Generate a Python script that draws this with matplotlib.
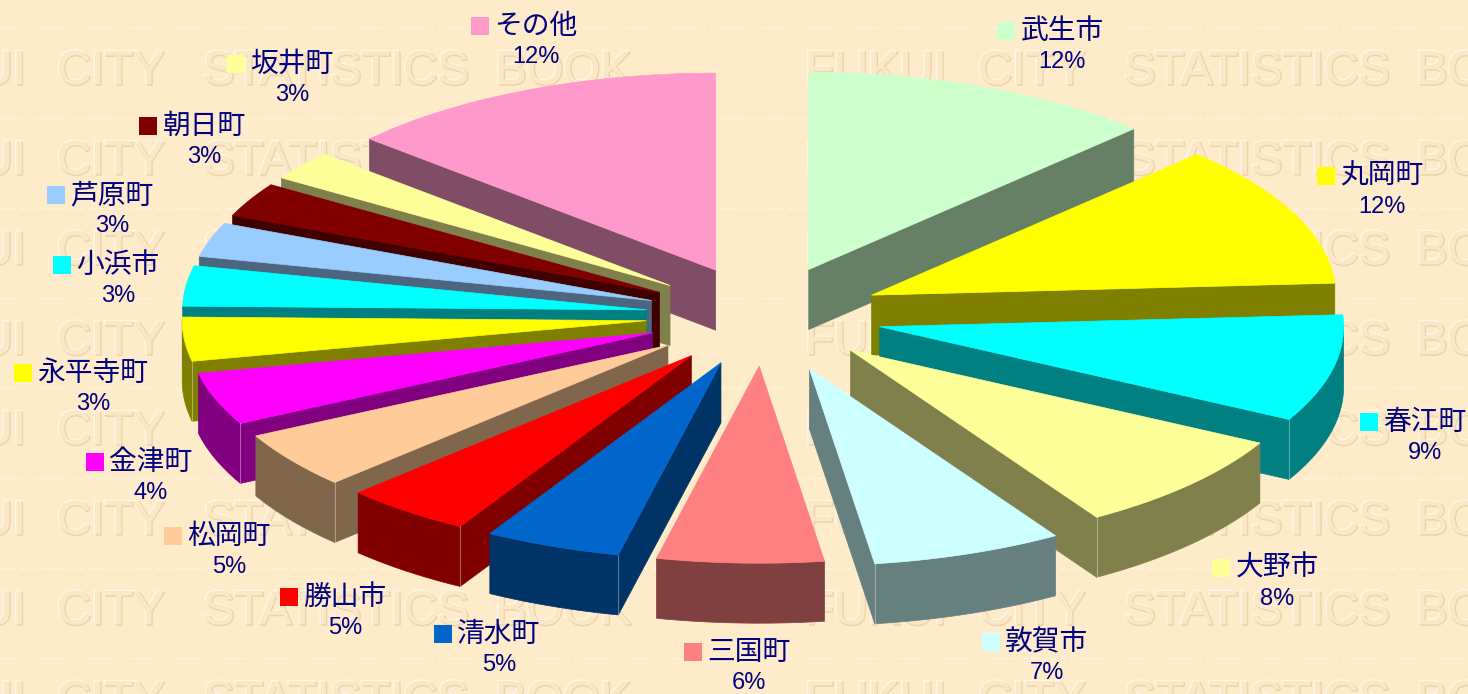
import numpy as np
import matplotlib
matplotlib.use('Agg')
import matplotlib.pyplot as plt
import matplotlib.patheffects as pe
from matplotlib.patches import Polygon, Rectangle

# shares, percent labels as printed on the chart
names = ['武生市', '丸岡町', '春江町', '大野市', '敦賀市', '三国町', '清水町', '勝山市',
         '松岡町', '金津町', '永平寺町', '小浜市', '芦原町', '朝日町', '坂井町', 'その他']
shares = [12.35, 11.68, 8.77, 8.3, 6.65, 5.8, 4.75, 4.45, 4.65, 4.3, 3.6, 3.3, 2.8, 2.8, 2.4, 13.4]
percent_labels = ['12%', '12%', '9%', '8%', '7%', '6%', '5%', '5%',
                  '5%', '4%', '3%', '3%', '3%', '3%', '3%', '12%']
colors = ['#CCFFCC', '#FFFF00', '#00FFFF', '#FFFF99', '#CCFFFF', '#FF8080', '#0066CC', '#FF0000',
          '#FFCC99', '#FF00FF', '#FFFF00', '#00FFFF', '#99CCFF', '#800000', '#FFFF99', '#FF99CC']
explode = [0.255, 0.255, 0.255, 0.255, 0.285, 0.255, 0.255, 0.255,
           0.255, 0.255, 0.255, 0.255, 0.255, 0.255, 0.255, 0.255]

# label layout, pixels
label_x = [1062, 1382, 1425, 1277, 1047, 749, 499, 345, 229, 151, 93, 118, 112, 204, 292, 536]
label_y = [31, 176, 422, 568, 642, 652, 634, 597, 536, 462, 373, 265, 195, 126, 64, 26]

# pie geometry, pixels
cx, cy = 764, 316
rx, ry = 464, 197
depth = 60

bg_color = '#FEEBC9'
text_color = '#000080'
wm_words = ['FUKUI', 'CITY', 'STATISTICS', 'BOOK']
wm_x = [-116, 57, 203, 495]
wm_period = 921
wm_rows = [-18, 72, 162, 252, 342, 432, 522, 612, 702]
dash_rows = [28, 118, 208, 298, 388, 478, 568, 658]

latin = ['Liberation Sans', 'DejaVu Sans']
cjk = ['Noto Sans CJK JP', 'DejaVu Sans']


def rim(theta, ox, oy, dz=0):
    # theta in radians, clockwise from the top
    return np.column_stack([ox + rx * np.sin(theta), oy - ry * np.cos(theta) + dz])


def darker(hex_color):
    r, g, b = matplotlib.colors.to_rgb(hex_color)
    return (r * 0.5, g * 0.5, b * 0.5)


def draw_slice(ax, start, end, color, pull):
    mid = (start + end) / 2
    ox = cx + pull * rx * np.sin(mid)
    oy = cy - pull * ry * np.cos(mid)
    wall = darker(color)
    apex = np.array([[ox, oy]])

    # radial wall facing the viewer
    for edge, show in ((start, start > np.pi), (end, end < np.pi)):
        if show:
            top = np.vstack([apex, rim(np.array([edge]), ox, oy)])
            low = top[::-1] + [0, depth]
            ax.add_patch(Polygon(np.vstack([top, low]), fc=wall, ec=wall, lw=0.5))

    # outer wall, only the front half of the rim
    a, b = max(start, np.pi / 2), min(end, 3 * np.pi / 2)
    if a < b:
        t = np.linspace(a, b, 40)
        pts = np.vstack([rim(t, ox, oy), rim(t[::-1], ox, oy, depth)])
        ax.add_patch(Polygon(pts, fc=wall, ec=wall, lw=0.5))
        # thin seam where the two walls meet
        seam = end if end < np.pi else (start if start > np.pi else None)
        if seam is not None and a <= seam <= b:
            p = rim(np.array([seam]), ox, oy)[0]
            ax.plot([p[0], p[0]], [p[1], p[1] + depth], color='white', alpha=0.35, lw=0.8)

    t = np.linspace(start, end, 60)
    ax.add_patch(Polygon(np.vstack([apex, rim(t, ox, oy)]), fc=color, ec=color, lw=0.5))


fig = plt.figure(figsize=(14.68, 6.94), dpi=100, facecolor=bg_color)
ax = fig.add_axes([0, 0, 1, 1])
ax.set_xlim(0, 1468)
ax.set_ylim(694, 0)
ax.axis('off')

# background watermark, embossed look through path effects on one text
emboss = [pe.Stroke(linewidth=1.0, foreground='#FFF6E6', offset=(-0.8, 0.8)),
          pe.Stroke(linewidth=1.0, foreground='#EBD3AC', offset=(0.8, -0.8)),
          pe.Normal()]
for y in wm_rows:
    for k in range(2):
        for word, x in zip(wm_words, wm_x):
            left = x + k * wm_period
            if left > 1468:
                continue
            ax.text(left, y, word, fontsize=34, family=latin, color='#FCE8C6',
                    ha='left', va='center', zorder=1, path_effects=emboss)
for y in dash_rows:
    ax.plot([0, 1468], [y, y], color='#FFF8EC', lw=1, ls=(0, (4, 3)), alpha=0.7, zorder=1)

# slices, back to front
edges = np.cumsum([0] + shares) / sum(shares) * 2 * np.pi
order = sorted(range(len(shares)), key=lambda i: -np.cos((edges[i] + edges[i + 1]) / 2))
for i in order:
    draw_slice(ax, edges[i], edges[i + 1], colors[i], explode[i])

# labels
for i, name in enumerate(names):
    half = len(name) * 27.3 / 2
    ax.text(label_x[i], label_y[i], name, fontsize=20, family=cjk, color=text_color,
            ha='center', va='center', zorder=5)
    ax.text(label_x[i], label_y[i] + 31, percent_labels[i], fontsize=17, family=latin,
            color=text_color, ha='center', va='center', zorder=5)
    ax.add_patch(Rectangle((label_x[i] - half - 24, label_y[i] - 9), 18, 18,
                           fc=colors[i], ec='none', zorder=5))

fig.savefig('out.png', dpi=100, facecolor=bg_color)
